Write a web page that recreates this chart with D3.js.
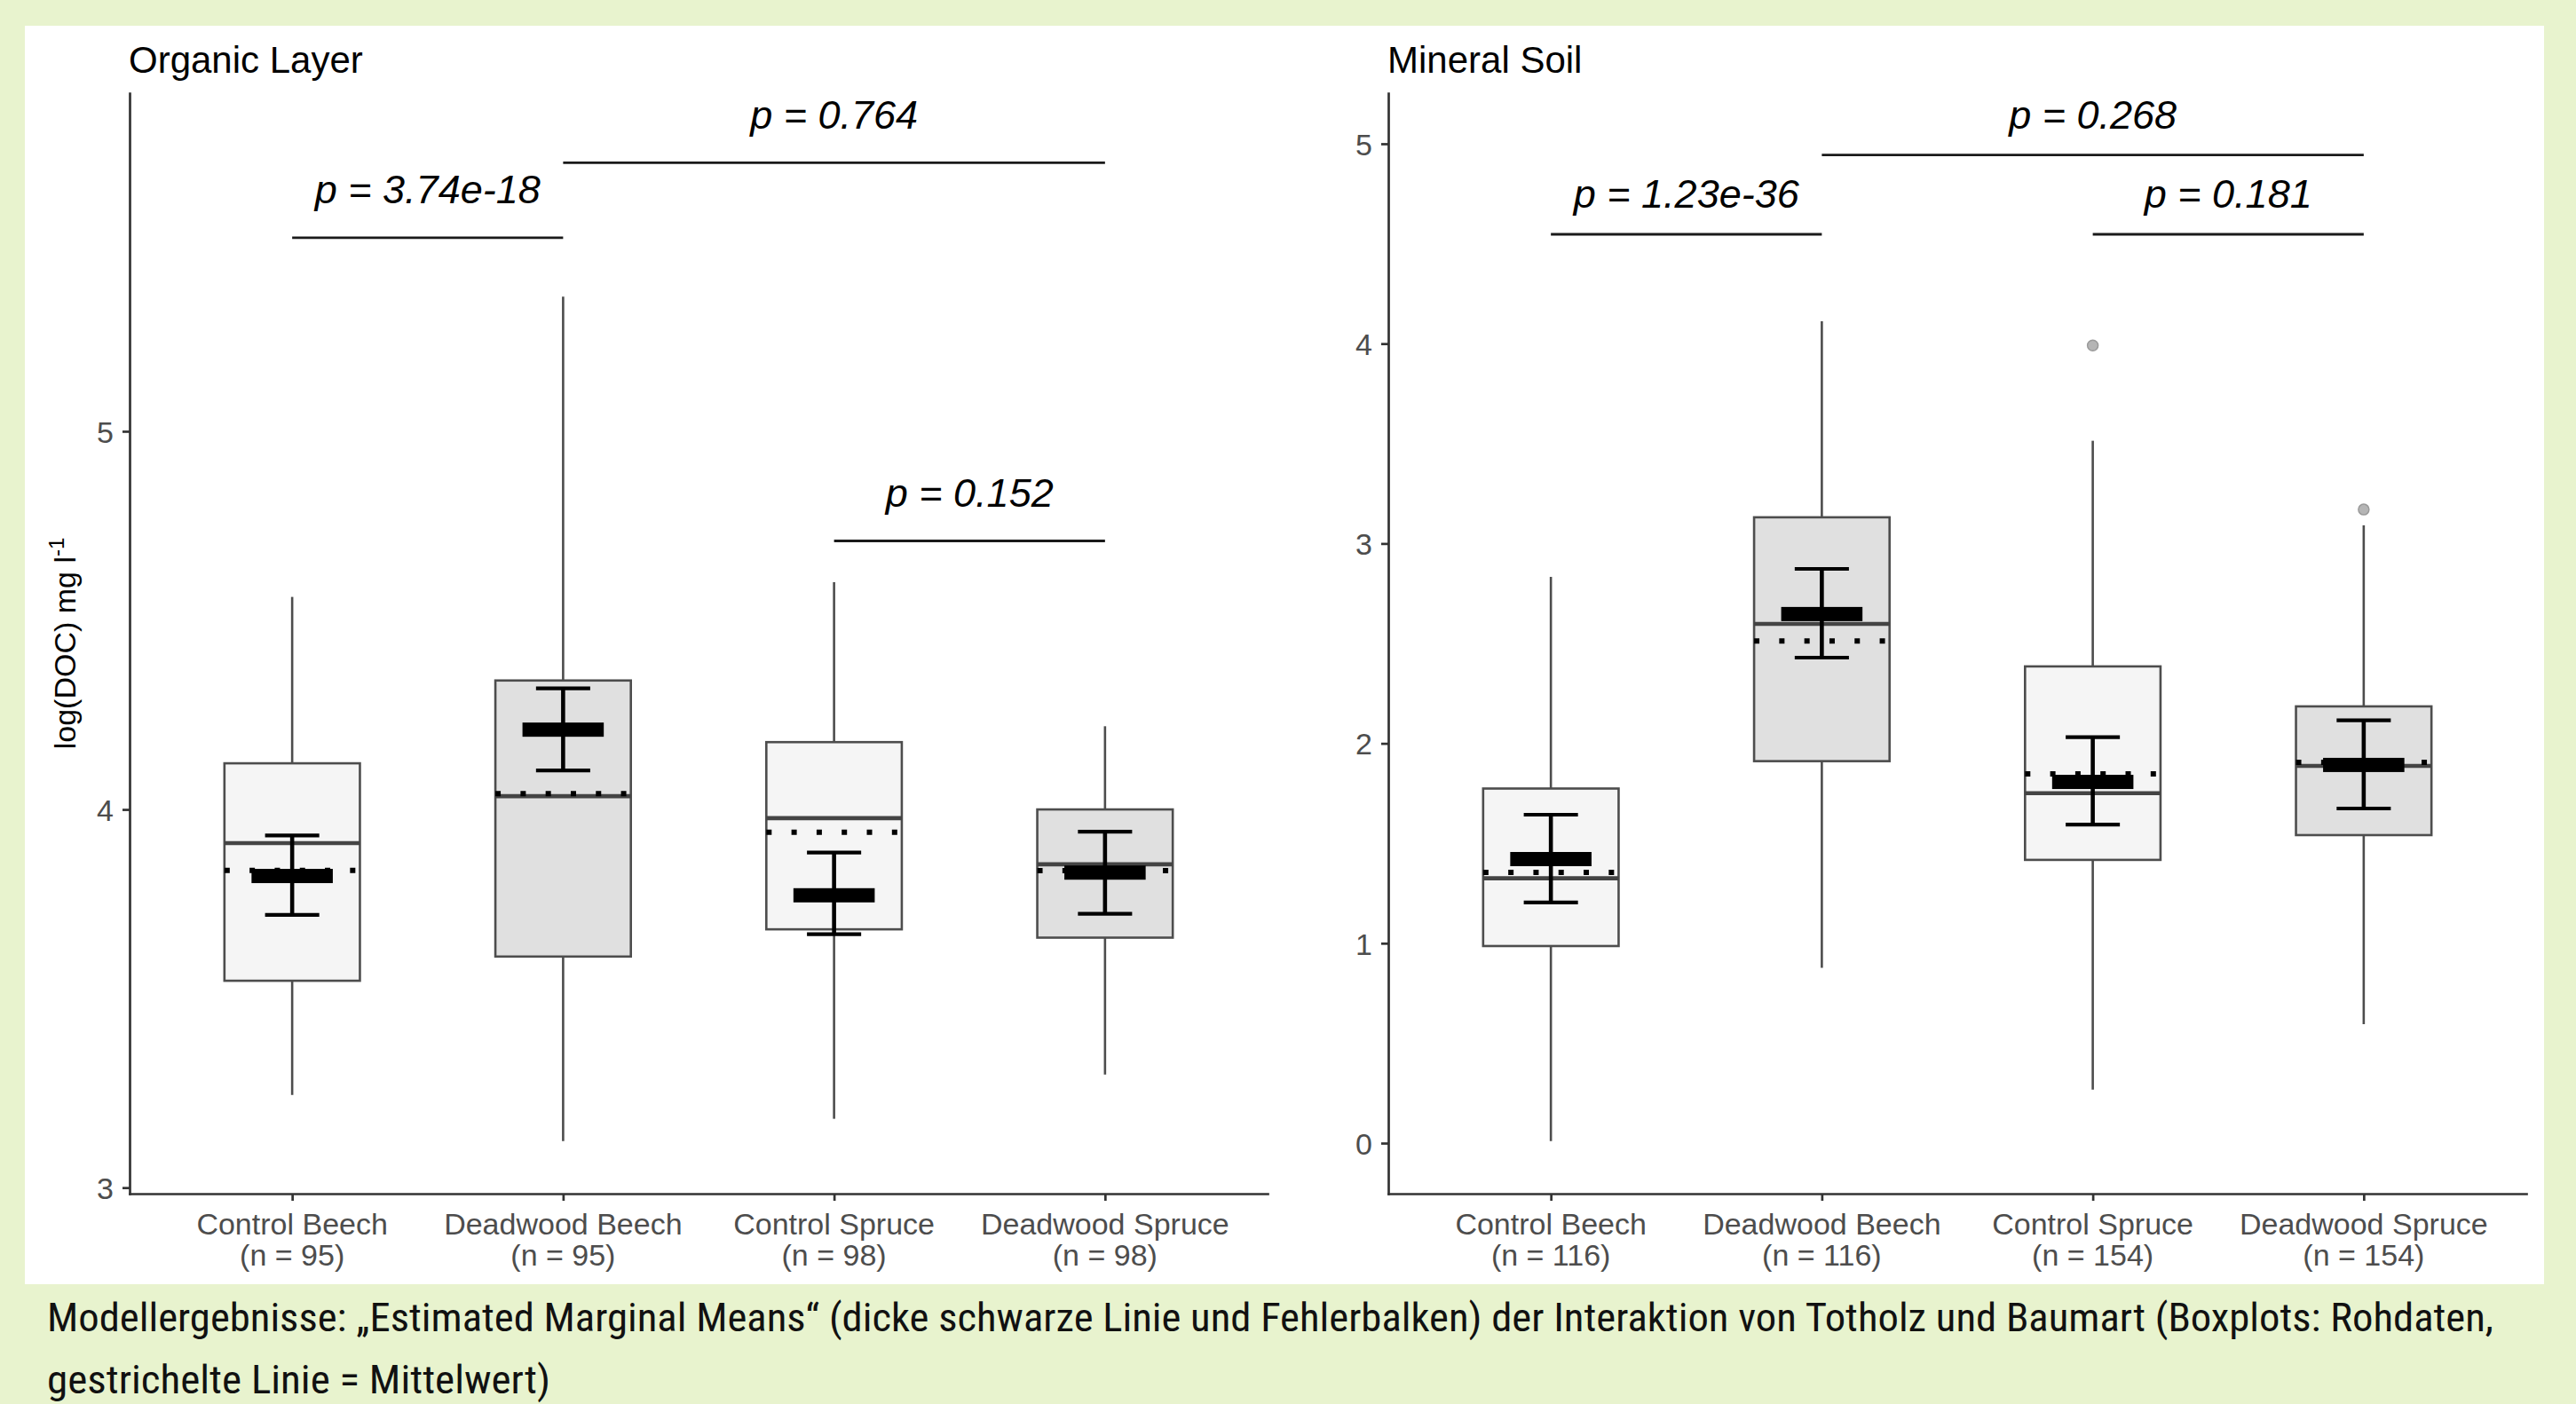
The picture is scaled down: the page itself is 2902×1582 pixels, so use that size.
<!DOCTYPE html>
<html>
<head>
<meta charset="utf-8">
<script src="https://cdn.jsdelivr.net/npm/d3@7"></script>
<style>
  html, body { margin: 0; padding: 0; background: #e8f3ce; }
  svg { display: block; }
</style>
</head>
<body>
<svg id="chart" width="2902" height="1582"></svg>
<script>
// ---- data ----
const categories = ["Control Beech", "Deadwood Beech", "Control Spruce", "Deadwood Spruce"];
const deadwood = [false, true, false, true];

// Organic layer: raw data summaries (log DOC)
const organicN            = [95, 95, 98, 98];
const organicWhiskerLow   = [3.245, 3.123, 3.182, 3.299];
const organicQ1           = [3.547, 3.611, 3.683, 3.661];
const organicMedian       = [3.911, 4.035, 3.977, 3.855];
const organicQ3           = [4.122, 4.341, 4.178, 4.000];
const organicWhiskerHigh  = [4.562, 5.356, 4.601, 4.220];
const organicMean         = [3.839, 4.042, 3.940, 3.838];
const organicOutliers     = [[], [], [], []];
// Organic layer: estimated marginal means with confidence limits
const organicEmm          = [3.824, 4.211, 3.773, 3.833];
const organicEmmLow       = [3.721, 4.103, 3.670, 3.724];
const organicEmmHigh      = [3.931, 4.320, 3.886, 3.941];
// Organic layer: pairwise comparisons
const organicPFrom   = [0, 1, 2];
const organicPTo     = [1, 3, 3];
const organicPLabel  = ["3.74e-18", "0.764", "0.152"];
const organicPY      = [5.512, 5.710, 4.710];
const organicTicks   = [3, 4, 5];

// Mineral soil: raw data summaries (log DOC)
const mineralN            = [116, 116, 154, 154];
const mineralWhiskerLow   = [0.01, 0.877, 0.268, 0.595];
const mineralQ1           = [0.986, 1.911, 1.417, 1.541];
const mineralMedian       = [1.325, 2.598, 1.751, 1.887];
const mineralQ3           = [1.774, 3.131, 2.385, 2.185];
const mineralWhiskerHigh  = [2.833, 4.112, 3.514, 3.091];
const mineralMean         = [1.354, 2.512, 1.847, 1.905];
const mineralOutliers     = [[], [], [3.991], [3.170]];
// Mineral soil: estimated marginal means with confidence limits
const mineralEmm          = [1.421, 2.647, 1.807, 1.892];
const mineralEmmLow       = [1.204, 2.429, 1.594, 1.674];
const mineralEmmHigh      = [1.643, 2.873, 2.031, 2.115];
// Mineral soil: pairwise comparisons
const mineralPFrom   = [0, 1, 2];
const mineralPTo     = [1, 3, 3];
const mineralPLabel  = ["1.23e-36", "0.268", "0.181"];
const mineralPY      = [4.547, 4.944, 4.547];
const mineralTicks   = [0, 1, 2, 3, 4, 5];

const captionLines = [
  "Modellergebnisse: \u201EEstimated Marginal Means\u201C (dicke schwarze Linie und Fehlerbalken) der Interaktion von Totholz und Baumart (Boxplots: Rohdaten,",
  "gestrichelte Linie = Mittelwert)"
];

// ---- layout ----
const FONT = "'Liberation Sans', Arial, Helvetica, sans-serif";
const svg = d3.select("#chart");

svg.append("rect").attr("width", 2902).attr("height", 1582).attr("fill", "#e8f3ce");
svg.append("rect").attr("x", 28).attr("y", 29).attr("width", 2838).attr("height", 1418).attr("fill", "#ffffff");

function rowsFor(p) {
  return categories.map((c, i) => ({
    cat: c, i, dead: deadwood[i], n: p.n[i],
    lo: p.lo[i], q1: p.q1[i], med: p.med[i], q3: p.q3[i], hi: p.hi[i],
    mean: p.mean[i], emm: p.emm[i], emmLo: p.emmLo[i], emmHi: p.emmHi[i],
    out: p.out[i]
  }));
}

function drawPanel(p) {
  const x = d3.scalePoint().domain(categories).range([p.x0, p.x1]).padding(0.6);
  const y = d3.scaleLinear().domain(p.domain).range([p.yBottom, p.yTop]);
  const step = x.step();
  const rows = rowsFor(p);
  const g = svg.append("g");

  // axes
  const ax = g.append("g").attr("transform", `translate(${p.x0},0)`)
    .call(d3.axisLeft(y).tickValues(p.ticks).tickFormat(d3.format("d")).tickSize(8).tickSizeOuter(0).tickPadding(10));
  const bx = g.append("g").attr("transform", `translate(0,${p.yBottom})`)
    .call(d3.axisBottom(x).tickSize(8).tickSizeOuter(0).tickFormat(""));
  [ax, bx].forEach(a => {
    a.attr("font-family", FONT).attr("font-size", 34);
    a.select(".domain").attr("stroke", "#333").attr("stroke-width", 2.7).attr("stroke-linecap", "square");
    a.selectAll(".tick line").attr("stroke", "#333").attr("stroke-width", 2.7);
    a.selectAll(".tick text").attr("fill", "#4d4d4d");
  });
  ax.selectAll(".tick text").attr("dy", "0.36em");

  // two-line category labels
  const lab = g.append("g").attr("font-family", FONT).attr("font-size", 34).attr("fill", "#4d4d4d")
    .attr("text-anchor", "middle");
  lab.selectAll("text.l1").data(rows).join("text").attr("class", "l1")
    .attr("x", d => x(d.cat)).attr("y", p.yBottom + 46).text(d => d.cat);
  lab.selectAll("text.l2").data(rows).join("text").attr("class", "l2")
    .attr("x", d => x(d.cat)).attr("y", p.yBottom + 81).text(d => `(n = ${d.n})`);

  // panel title
  g.append("text").attr("x", p.x0 - 1).attr("y", 82).attr("font-family", FONT)
    .attr("font-size", 42).attr("fill", "#000").text(p.title);

  const boxW = step * 0.5;
  // whiskers
  g.selectAll("line.wu").data(rows).join("line").attr("class", "wu")
    .attr("x1", d => x(d.cat)).attr("x2", d => x(d.cat))
    .attr("y1", d => y(d.q3)).attr("y2", d => y(d.hi))
    .attr("stroke", "#4d4d4d").attr("stroke-width", 2.6);
  g.selectAll("line.wl").data(rows).join("line").attr("class", "wl")
    .attr("x1", d => x(d.cat)).attr("x2", d => x(d.cat))
    .attr("y1", d => y(d.q1)).attr("y2", d => y(d.lo))
    .attr("stroke", "#4d4d4d").attr("stroke-width", 2.6);
  // outliers
  g.selectAll("circle.out").data(rows.flatMap(d => d.out.map(v => ({cat: d.cat, v}))))
    .join("circle").attr("class", "out")
    .attr("cx", d => x(d.cat)).attr("cy", d => y(d.v)).attr("r", 6)
    .attr("fill", "#b5b5b5").attr("stroke", "#9a9a9a").attr("stroke-width", 1.5);
  // boxes
  g.selectAll("rect.box").data(rows).join("rect").attr("class", "box")
    .attr("x", d => x(d.cat) - boxW / 2).attr("width", boxW)
    .attr("y", d => y(d.q3)).attr("height", d => y(d.q1) - y(d.q3))
    .attr("fill", d => d.dead ? "#e0e0e0" : "#f5f5f5")
    .attr("stroke", "#4d4d4d").attr("stroke-width", 2.6);
  // medians
  g.selectAll("line.med").data(rows).join("line").attr("class", "med")
    .attr("x1", d => x(d.cat) - boxW / 2).attr("x2", d => x(d.cat) + boxW / 2)
    .attr("y1", d => y(d.med)).attr("y2", d => y(d.med))
    .attr("stroke", "#444").attr("stroke-width", 4.6);
  // means (dotted)
  g.selectAll("line.mean").data(rows).join("line").attr("class", "mean")
    .attr("x1", d => x(d.cat) - boxW / 2).attr("x2", d => x(d.cat) + boxW / 2)
    .attr("y1", d => y(d.mean)).attr("y2", d => y(d.mean))
    .attr("stroke", "#000").attr("stroke-width", 6).attr("stroke-dasharray", "6,22.3");

  // estimated marginal means: error bars + thick bar
  const capW = step * 0.2, emmW = step * 0.3;
  g.selectAll("line.eb").data(rows).join("line").attr("class", "eb")
    .attr("x1", d => x(d.cat)).attr("x2", d => x(d.cat))
    .attr("y1", d => y(d.emmHi)).attr("y2", d => y(d.emmLo))
    .attr("stroke", "#000").attr("stroke-width", 4.6);
  ["emmHi", "emmLo"].forEach(k => {
    g.selectAll("line.cap-" + k).data(rows).join("line").attr("class", "cap-" + k)
      .attr("x1", d => x(d.cat) - capW / 2).attr("x2", d => x(d.cat) + capW / 2)
      .attr("y1", d => y(d[k])).attr("y2", d => y(d[k]))
      .attr("stroke", "#000").attr("stroke-width", 4.2);
  });
  g.selectAll("rect.emm").data(rows).join("rect").attr("class", "emm")
    .attr("x", d => x(d.cat) - emmW / 2).attr("width", emmW)
    .attr("y", d => y(d.emm) - 8).attr("height", 16).attr("fill", "#000");

  // comparisons
  const comps = p.pFrom.map((f, k) => ({from: categories[f], to: categories[p.pTo[k]], label: p.pLabel[k], yv: p.pY[k]}));
  g.selectAll("line.br").data(comps).join("line").attr("class", "br")
    .attr("x1", d => x(d.from)).attr("x2", d => x(d.to))
    .attr("y1", d => y(d.yv)).attr("y2", d => y(d.yv))
    .attr("stroke", "#1a1a1a").attr("stroke-width", 2.8);
  g.selectAll("text.pv").data(comps).join("text").attr("class", "pv")
    .attr("x", d => (x(d.from) + x(d.to)) / 2).attr("y", d => y(d.yv) - p.labelGap)
    .attr("text-anchor", "middle").attr("font-family", FONT).attr("font-style", "italic")
    .attr("font-size", 45).attr("fill", "#000")
    .text(d => `p = ${d.label}`);
}

drawPanel({
  title: "Organic Layer", x0: 146, x1: 1428, yTop: 105, yBottom: 1345,
  domain: [2.984, 5.894], ticks: organicTicks, labelGap: 38.5,
  n: organicN, lo: organicWhiskerLow, q1: organicQ1, med: organicMedian, q3: organicQ3,
  hi: organicWhiskerHigh, mean: organicMean, out: organicOutliers,
  emm: organicEmm, emmLo: organicEmmLow, emmHi: organicEmmHigh,
  pFrom: organicPFrom, pTo: organicPTo, pLabel: organicPLabel, pY: organicPY
});
drawPanel({
  title: "Mineral Soil", x0: 1564, x1: 2846, yTop: 105, yBottom: 1345,
  domain: [-0.253, 5.253], ticks: mineralTicks, labelGap: 29.5,
  n: mineralN, lo: mineralWhiskerLow, q1: mineralQ1, med: mineralMedian, q3: mineralQ3,
  hi: mineralWhiskerHigh, mean: mineralMean, out: mineralOutliers,
  emm: mineralEmm, emmLo: mineralEmmLow, emmHi: mineralEmmHigh,
  pFrom: mineralPFrom, pTo: mineralPTo, pLabel: mineralPLabel, pY: mineralPY
});

// shared y axis title
const yl = svg.append("text").attr("transform", "translate(85,725) rotate(-90)")
  .attr("text-anchor", "middle").attr("font-family", FONT).attr("font-size", 34).attr("fill", "#000");
yl.append("tspan").text("log(DOC) mg l");
yl.append("tspan").attr("dy", -13).attr("font-size", 24).text("-1");

// caption
const cap = svg.append("g").attr("font-family", "'Liberation Sans Narrow', 'Roboto Condensed', 'DejaVu Sans Condensed', 'Open Sans', sans-serif")
  .attr("font-size", 45).attr("fill", "#111");
cap.append("text").attr("x", 53).attr("y", 1500).attr("textLength", 2756)
  .attr("lengthAdjust", "spacingAndGlyphs").text(captionLines[0]);
cap.append("text").attr("x", 53).attr("y", 1570).attr("textLength", 567)
  .attr("lengthAdjust", "spacingAndGlyphs").text(captionLines[1]);
</script>
</body>
</html>
